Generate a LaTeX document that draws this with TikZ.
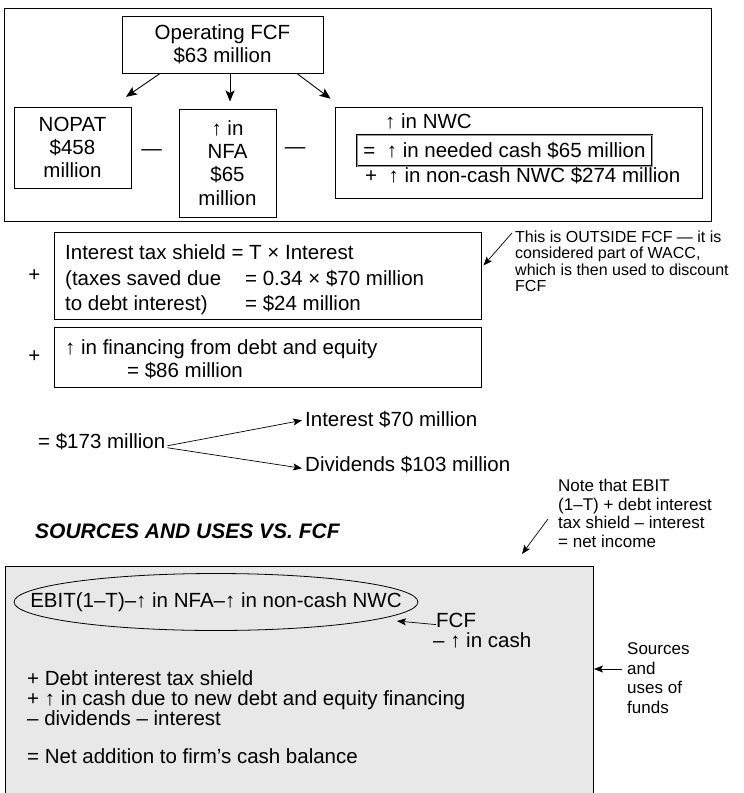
\documentclass[tikz,border=0pt]{standalone}
\usepackage{fontspec}
\setmainfont{Liberation Sans}
\usetikzlibrary{arrows.meta,positioning,shapes.geometric}
\definecolor{panelgray}{HTML}{E8E8E8}

\begin{document}
\begin{tikzpicture}[x=1pt, y=-1pt,
    box/.style={draw, line width=1pt, inner sep=0pt, align=center},
    txt/.style={inner sep=0pt, font=\fontsize{20.5}{23.3}\selectfont},
    note/.style={inner sep=0pt, align=left, font=\fontsize{16}{16.2}\selectfont},
    arr/.style={-{Stealth[length=11pt,width=9pt,inset=2.5pt]}, line width=0.9pt},
    thinarr/.style={-{Stealth[length=9pt,width=7pt,inset=2pt]}, line width=0.7pt}]
    \useasboundingbox (0,0) rectangle (744,793);

    % operating FCF split in its three parts
    \draw[line width=1pt] (4,8) rectangle (711,221);
    \node[box, txt, minimum width=201pt, minimum height=57pt] (opfcf) at (222.5,44.5) {Operating FCF\\\$63 million};
    \node[box, txt, minimum width=117pt, minimum height=81pt] (nopat) at (72.5,147.5) {NOPAT\\\$458\\million};
    \node[box, txt, minimum width=97pt, minimum height=108pt] (nfa) at (227.5,163) {↑ in\\NFA\\\$65\\million};
    \node[box, minimum width=367pt, minimum height=91pt] (nwc) at (518.5,152.5) {};
    \node[txt, anchor=mid] (minusa) at (151.5,153) {—};
    \node[txt, anchor=mid] (minusb) at (295,151) {—};
    \node[txt, anchor=mid west] (nwcup) at (385,126) {↑ in NWC};
    \node[txt, draw=black, double=gray!80, double distance=1pt, line width=0.7pt,
          minimum width=295pt, minimum height=31pt] (needcash) at (504.5,150.5) {=\ \ ↑ in needed cash \$65 million};
    \node[txt, anchor=mid west] (noncash) at (365,180) {+\ \ ↑ in non-cash NWC \$274 million};

    \draw[arr, shorten >=17pt] ([xshift=-62.5pt]opfcf.south) -- ([xshift=39.5pt]nopat.north);
    \draw[arr, shorten >=7pt] ([xshift=7.5pt]opfcf.south) -- ([xshift=7.5pt]opfcf.south |- nfa.north);
    \draw[arr, shorten >=13pt] ([xshift=74.5pt]opfcf.south) -- ([xshift=6.5pt]nwc.north west);

    % tax shield and new financing
    \node[box, minimum width=427pt, minimum height=87pt] (itax) at (267.5,275.5) {};
    \node[txt, anchor=north west, align=left, font=\fontsize{20.5}{25.5}\selectfont] (itaxtext) at (65,244.5)
        {Interest tax shield = T × Interest\\\makebox[180pt][l]{(taxes saved due}= 0.34 × \$70 million\\\makebox[180pt][l]{to debt interest)}= \$24 million};
    \node[txt, left=13pt of itax] (plusa) {+};
    \node[box, minimum width=427pt, minimum height=60pt] (finbox) at (267.5,357) {};
    \node[txt, anchor=north west, align=left] (fintext) at (65,339.5) {↑ in financing from debt and equity\\\hspace*{62pt}= \$86 million};
    \node[txt, left=13pt of finbox] (plusb) {+};

    \node[note, anchor=north west] (outside) at (515,231) {This is OUTSIDE FCF — it is\\considered part of WACC,\\which is then used to discount\\FCF};
    \draw[thinarr] ([shift={(-3pt,-2pt)}]outside.north west) -- ([shift={(2pt,10pt)}]itax.east);

    % payout
    \node[txt, anchor=mid west] (payout) at (38,446) {= \$173 million};
    \node[txt, anchor=mid west] (interest) at (305,424) {Interest \$70 million};
    \node[txt, anchor=mid west] (dividends) at (305,469) {Dividends \$103 million};
    \draw[thinarr, shorten >=3pt] ([shift={(2pt,-4pt)}]payout.east) -- (interest.west);
    \draw[thinarr, shorten >=3pt] ([shift={(2pt,-6pt)}]payout.east) -- ([yshift=-4pt]dividends.west);

    % sources and uses
    \node[anchor=mid west, inner sep=0pt, font=\fontsize{21}{21}\selectfont\bfseries\itshape] (title) at (35,536) {SOURCES AND USES VS. FCF};
    \node[note, anchor=north west, font=\fontsize{17}{18.5}\selectfont] (netinc) at (558,479) {Note that EBIT\\(1–T) + debt interest\\tax shield – interest\\= net income};
    \coordinate (netincend) at (522,554);
    \draw[thinarr] ([shift={(-10pt,-40pt)}]netinc.north west) -- (netincend);

    \node[draw, fill=panelgray, line width=1pt, minimum width=588pt, minimum height=240pt,
          anchor=north west, inner sep=0pt] (panel) at (5,566) {};
    \node[draw, ellipse, line width=0.8pt, inner sep=0pt, minimum width=404pt, minimum height=57pt] (ebit) at (216,602) {};
    \node[txt] (ebittext) at (ebit.center) {EBIT(1–T)–↑ in NFA–↑ in non-cash NWC};
    \node[txt, anchor=mid west] (fcf) at (436,625) {FCF};
    \node[txt, anchor=mid west] (lesscash) at (433,645) {– ↑ in cash};
    \draw[thinarr] ([yshift=-4pt]fcf.west) -- ([shift={(181pt,-19pt)}]ebit.center);
    \node[txt, anchor=north west, align=left, font=\fontsize{20.5}{20}\selectfont] (flows) at (27,670)
        {+ Debt interest tax shield\\+ ↑ in cash due to new debt and equity financing\\– dividends – interest\\[18pt]= Net addition to firm’s cash balance};

    \node[note, anchor=north west, font=\fontsize{17}{19.7}\selectfont] (srcuse) at (627,642.5) {Sources\\and\\uses of\\funds};
    \coordinate (srcstart) at ([shift={(-5pt,-26.5pt)}]srcuse.north west);
    \draw[thinarr] (srcstart) -- (srcstart -| panel.east);
\end{tikzpicture}
\end{document}
